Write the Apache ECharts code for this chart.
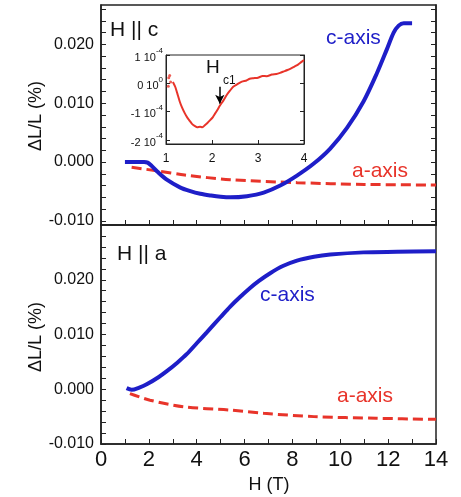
<!DOCTYPE html>
<html><head><meta charset="utf-8">
<script src="https://cdn.jsdelivr.net/npm/echarts@6/dist/echarts.min.js"></script>
<style>html,body{margin:0;padding:0;background:#fff}#c{width:461px;height:497px}</style>
</head><body><div id="c"></div>
<script>
// ---- data ----
// Top panel: H || c
const topCaxis = [[1.0,0.0000],[1.5,0.0000],[1.8,0.0000],[1.95,-0.0001],[2.1,-0.0006],[2.35,-0.0016],[2.75,-0.0030],[3.3,-0.0043],[3.7,-0.0049],[4.15,-0.0054],[4.6,-0.0057],[5.0,-0.0059],[5.4,-0.0060],[6.1,-0.0058],[6.8,-0.0052],[7.49,-0.0040],[8.19,-0.0023],[8.88,-0.0003],[9.58,0.0023],[10.28,0.0058],[10.97,0.0103],[11.53,0.0151],[11.95,0.0192],[12.23,0.0220],[12.44,0.0232],[12.65,0.0236],[13.0,0.0236]];
const topAaxis = [[1.28,-0.0009],[2.35,-0.0015],[3.5,-0.0022],[5.4,-0.0030],[8.2,-0.0035],[11.0,-0.0038],[14.0,-0.0039]];
// Bottom panel: H || a
const botCaxis = [[1.07,0.0002],[1.28,-0.0001],[1.6,0.0003],[1.91,0.0009],[2.4,0.0022],[2.75,0.0033],[3.2,0.0049],[3.58,0.0064],[4.0,0.0084],[4.42,0.0104],[5.0,0.0132],[5.4,0.0151],[5.8,0.0168],[6.23,0.0185],[6.6,0.0198],[7.07,0.0212],[7.6,0.0225],[8.19,0.0235],[8.9,0.0242],[9.58,0.0246],[10.97,0.0250],[12.37,0.0251],[14.0,0.0252]];
const botAaxis = [[1.21,-0.0008],[2.05,-0.0020],[3.44,-0.0032],[5.4,-0.0038],[6.8,-0.0044],[8.9,-0.0050],[11.5,-0.0053],[14.0,-0.0055]];
// Inset (units of 1e-4)
const insetLine = [[1.15,0.05],[1.2,-0.12],[1.25,-0.38],[1.30,-0.65],[1.35,-0.86],[1.41,-1.06],[1.46,-1.2],[1.52,-1.33],[1.57,-1.44],[1.63,-1.51],[1.68,-1.55],[1.74,-1.53],[1.79,-1.55],[1.85,-1.47],[1.90,-1.40],[1.96,-1.30],[2.02,-1.19],[2.07,-1.06],[2.12,-0.93],[2.17,-0.79],[2.25,-0.60],[2.32,-0.41],[2.39,-0.26],[2.46,-0.12],[2.55,-0.03],[2.65,0.06],[2.75,0.10],[2.82,0.16],[2.90,0.18],[3.0,0.20],[3.1,0.26],[3.19,0.25],[3.3,0.31],[3.4,0.33],[3.48,0.37],[3.56,0.42],[3.64,0.47],[3.73,0.54],[3.8,0.60],[3.87,0.66],[3.94,0.75],[4.0,0.82]];
const insetDots = [[1.05,-0.1],[1.06,0.2],[1.08,0.28],[1.10,0.05]];
const hc1Arrow = [[2.17,-0.12],[2.17,-0.72]];
// ticks
const xMajor = [0,2,4,6,8,10,12,14];
const xTicks = [0,1,2,3,4,5,6,7,8,9,10,11,12,13,14];
const topMajor = [-0.010,0.000,0.010,0.020];
const topTicks = [-0.010,-0.008,-0.006,-0.004,-0.002,0.000,0.002,0.004,0.006,0.008,0.010,0.012,0.014,0.016,0.018,0.020,0.022,0.024,0.026];
const botMajor = [-0.010,0.000,0.010,0.020];
const botTicks = [-0.010,-0.008,-0.006,-0.004,-0.002,0.000,0.002,0.004,0.006,0.008,0.010,0.012,0.014,0.016,0.018,0.020,0.022,0.024,0.026,0.028];
const insetXTicks = [1,2,3,4];
const insetYTicks = [-2,-1,0,1];

const FONT = '"Liberation Sans", Arial, Helvetica, sans-serif';
const BLUE = '#1e1ec8';
const RED = '#e8342a';
const INK = '#222';

const chart = echarts.init(document.getElementById('c'), null, {renderer:'canvas'});

function xAx(grid, labels) {
  return {
    type:'value', gridIndex:grid, min:0, max:14,
    axisLine:{show:true, onZero:false, lineStyle:{color:INK, width:1.5}},
    axisTick:{show:true, inside:true, length:5, customValues:xTicks, lineStyle:{color:INK, width:1}},
    axisLabel:{show:labels, customValues:xMajor, fontSize:22, color:'#111', fontFamily:FONT, margin:5},
    splitLine:{show:false}
  };
}
function yAx(grid, min, max, major, ticks, pos, labels) {
  return {
    type:'value', gridIndex:grid, min:min, max:max, position:pos,
    axisLine:{show:true, onZero:false, lineStyle:{color:INK, width:1.5}},
    axisTick:{show:true, inside:true, length:5, customValues:ticks, lineStyle:{color:INK, width:1}},
    axisLabel:{show:labels, customValues:major, formatter:v=>v.toFixed(3), fontSize:16, color:'#111', fontFamily:FONT, margin:7},
    splitLine:{show:false}
  };
}

const option = {
  animation:false,
  backgroundColor:'#fff',
  grid:[
    {left:101, top:5, width:335, height:220, show:true, borderColor:INK, borderWidth:1.5},
    {left:101, top:225, width:335, height:219, show:true, borderColor:INK, borderWidth:1.5},
    {left:166, top:55, width:138, height:89, show:true, borderColor:INK, borderWidth:1, backgroundColor:'#fff'}
  ],
  xAxis:[
    xAx(0,false),
    xAx(1,true),
    {type:'value', gridIndex:2, min:1, max:4,
     axisLine:{show:true, onZero:false, lineStyle:{color:INK, width:1}},
     axisTick:{show:true, inside:true, length:4, customValues:insetXTicks, lineStyle:{color:INK}},
     axisLabel:{customValues:insetXTicks, fontSize:12, color:'#111', fontFamily:FONT, margin:9},
     splitLine:{show:false}}
  ],
  yAxis:[
    yAx(0,-0.0107,0.0267,topMajor,topTicks,'left',true),
    yAx(0,-0.0107,0.0267,topMajor,topTicks,'right',false),
    yAx(1,-0.010,0.030,botMajor,botTicks,'left',true),
    {type:'value', gridIndex:2, min:-2.14, max:1.0, position:'left',
     axisLine:{show:true, onZero:false, lineStyle:{color:INK, width:1}},
     axisTick:{show:true, inside:true, length:4, customValues:insetYTicks, lineStyle:{color:INK}},
     axisLabel:{customValues:insetYTicks, margin:3, fontFamily:FONT, color:'#111',
       formatter:v=>{const m=Math.round(v); return m===0 ? '{n|0 10}{s|0}' : '{n|'+m+' 10}{s|-4}';},
       rich:{n:{fontSize:11, fontFamily:FONT, color:'#111', lineHeight:16, verticalAlign:'bottom'},
             s:{fontSize:8, fontFamily:FONT, color:'#111', lineHeight:16, verticalAlign:'top'}}},
     splitLine:{show:false}},
    {type:'value', gridIndex:2, min:-2.14, max:1.0, position:'right',
     axisLine:{show:true, onZero:false, lineStyle:{color:INK, width:1}},
     axisTick:{show:true, inside:true, length:4, customValues:insetYTicks, lineStyle:{color:INK}},
     axisLabel:{show:false}, splitLine:{show:false}}
  ],
  series:[
    {type:'line', xAxisIndex:0, yAxisIndex:0, data:topAaxis, smooth:0.3, showSymbol:false, lineStyle:{color:RED, width:3, type:[10,5]}},
    {type:'line', xAxisIndex:0, yAxisIndex:0, data:topCaxis, smooth:0.3, showSymbol:false, lineStyle:{color:BLUE, width:4}},
    {type:'line', xAxisIndex:1, yAxisIndex:2, data:botAaxis, smooth:0.3, showSymbol:false, lineStyle:{color:RED, width:3, type:[10,5]}},
    {type:'line', xAxisIndex:1, yAxisIndex:2, data:botCaxis, smooth:0.3, showSymbol:false, lineStyle:{color:BLUE, width:4}},
    {type:'line', xAxisIndex:2, yAxisIndex:3, data:insetLine, smooth:0.2, showSymbol:false, lineStyle:{color:RED, width:2}, z:5,
     markLine:{silent:true, symbol:['none','arrow'], symbolSize:[7,9], label:{show:false},
       lineStyle:{color:'#000', width:1.5, type:'solid'},
       data:[[{coord:hc1Arrow[0]},{coord:hc1Arrow[1]}]]}},
    {type:'scatter', xAxisIndex:2, yAxisIndex:3, data:insetDots, symbolSize:3, itemStyle:{color:RED}, z:5}
  ],
  graphic:[
    {type:'text', left:110, top:20, style:{text:'H || c', font:'21px '+FONT, fill:'#111'}},
    {type:'text', left:117, top:244, style:{text:'H || a', font:'21px '+FONT, fill:'#111'}},
    {type:'text', left:326, top:28, style:{text:'c-axis', font:'21px '+FONT, fill:BLUE}},
    {type:'text', left:352, top:161, style:{text:'a-axis', font:'21px '+FONT, fill:RED}},
    {type:'text', left:260, top:285, style:{text:'c-axis', font:'21px '+FONT, fill:BLUE}},
    {type:'text', left:337, top:386, style:{text:'a-axis', font:'21px '+FONT, fill:RED}},
    {type:'text', left:206, top:58, style:{text:'H', font:'19px '+FONT, fill:'#111'}},
    {type:'text', left:223, top:75, style:{text:'c1', font:'12px '+FONT, fill:'#111'}},
    {type:'text', x:36, y:116, rotation:Math.PI/2, style:{text:'ΔL/L (%)', font:'18px '+FONT, fill:'#111', align:'center', verticalAlign:'middle'}},
    {type:'text', x:36, y:337, rotation:Math.PI/2, style:{text:'ΔL/L (%)', font:'18px '+FONT, fill:'#111', align:'center', verticalAlign:'middle'}},
    {type:'text', x:269, y:485, style:{text:'H (T)', font:'18px '+FONT, fill:'#111', align:'center', verticalAlign:'middle'}}
  ]
};
chart.setOption(option);
</script>
</body></html>
